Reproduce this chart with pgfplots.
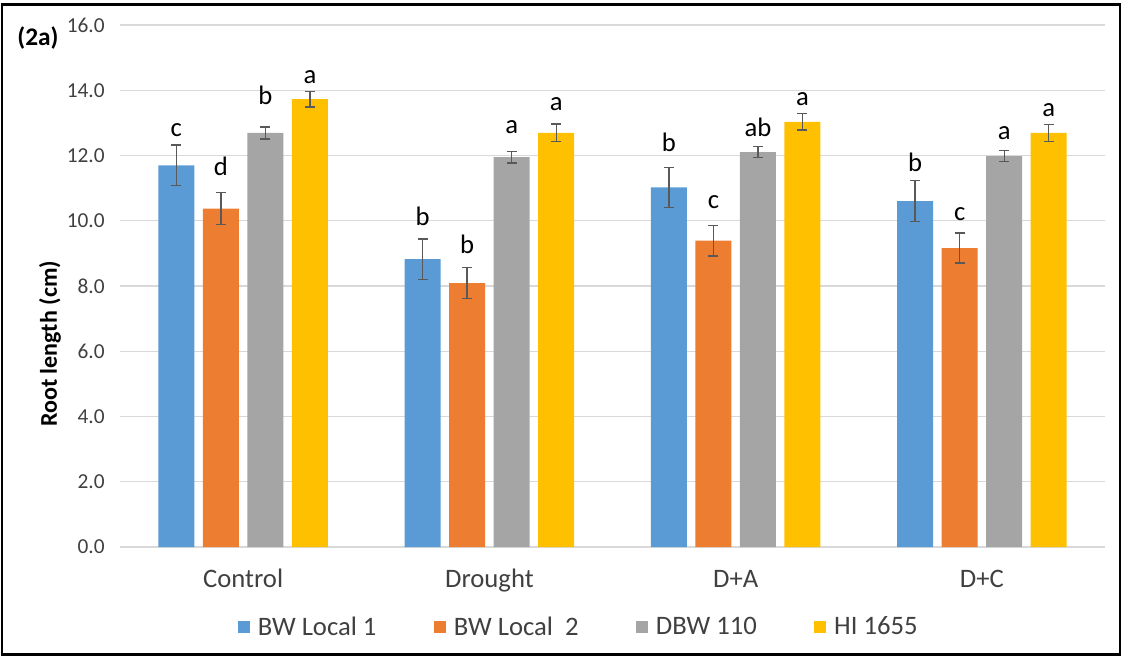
\documentclass[border=0pt]{standalone}
\usepackage{pgfplots}
\usepackage{pgfplotstable}
\pgfplotsset{compat=1.18}
\usepackage{fontspec}
\setmainfont{Carlito}
\definecolor{c1}{HTML}{5B9BD5}
\definecolor{c2}{HTML}{ED7D31}
\definecolor{c3}{HTML}{A5A5A5}
\definecolor{c4}{HTML}{FFC000}
\definecolor{gridc}{HTML}{D9D9D9}
\definecolor{errc}{HTML}{595959}
\definecolor{txtc}{HTML}{404040}

\pgfplotstableread{
x y e ly lab
0 11.70 0.62 12.58 c
1 8.82 0.62 9.85 b
2 11.02 0.62 12.12 b
3 10.60 0.63 11.50 b
}\tblA
\pgfplotstableread{
x y e ly lab
0 10.37 0.49 11.40 d
1 8.09 0.47 9.00 b
2 9.39 0.47 10.38 c
3 9.16 0.46 10.02 c
}\tblB
\pgfplotstableread{
x y e ly lab
0 12.69 0.18 13.55 b
1 11.95 0.18 12.68 a
2 12.10 0.17 12.58 ab
3 11.98 0.17 12.48 a
}\tblC
\pgfplotstableread{
x y e ly lab
0 13.73 0.24 14.22 a
1 12.69 0.27 13.39 a
2 13.03 0.25 13.53 a
3 12.69 0.26 13.19 a
}\tblD

\begin{document}
\begin{tikzpicture}
\useasboundingbox (-90pt,-82.5pt) rectangle (752.25pt,410.25pt);
\draw[line width=1.8pt] (-88.5pt,-80.6pt) rectangle (750pt,406.9pt);
\begin{axis}[
  at={(0pt,0pt)}, anchor=south west,
  x=184.7pt, y=24.47pt,
  xmin=-0.5, xmax=3.5, ymin=0, ymax=16,
  ybar=6.4pt, bar width=27pt,
  axis line style={draw=none},
  major tick length=0pt,
  ymajorgrids, grid style={color=gridc, line width=0.9pt},
  ytick={0,2,...,16},
  /pgf/number format/assume math mode=true,
  yticklabel style={/pgf/number format/.cd, fixed, fixed zerofill, precision=1, /tikz/.cd,
     font=\fontsize{16}{18}\selectfont, text=txtc, anchor=east, xshift=-8pt},
  xtick={0,1,2,3}, xticklabels={Control,Drought,D+A,D+C},
  xticklabel style={font=\fontsize{20}{22}\selectfont, text=txtc, anchor=base, yshift=-30pt},
  ylabel={Root length (cm)},
  ylabel style={at={(axis description cs:-0.071,0.389)}, anchor=center, font=\bfseries\fontsize{18}{20}\selectfont},
  legend columns=4,
  legend style={at={(0.466,-0.153)}, anchor=center, draw=none, fill=none,
     font=\fontsize{20}{22}\selectfont, text=txtc,
     /tikz/every odd column/.append style={column sep=4pt},
     /tikz/every even column/.append style={column sep=41pt}},
  legend image code/.code={\fill[#1] (0pt,-4.5pt) rectangle (9pt,4.5pt);},
  error bars/y dir=both, error bars/y explicit,
  error bars/error bar style={color=errc, line width=1pt},
  error bars/error mark options={rotate=90, color=errc, line width=1pt, mark size=3.75pt},
  nodes near coords,
  point meta=explicit symbolic,
  visualization depends on={\thisrow{ly}-\thisrow{y} \as \dy},
  nodes near coords style={anchor=base, yshift=\dy*24.47pt, font=\fontsize{20}{22}\selectfont, text=black},
]
\addplot[fill=c1, draw=none] table[x=x, y=y, y error=e, meta=lab]{\tblA};
\addplot[fill=c2, draw=none] table[x=x, y=y, y error=e, meta=lab]{\tblB};
\addplot[fill=c3, draw=none] table[x=x, y=y, y error=e, meta=lab]{\tblC};
\addplot[fill=c4, draw=none] table[x=x, y=y, y error=e, meta=lab]{\tblD};
\legend{BW Local 1, BW Local~ 2, DBW 110, HI 1655}
\end{axis}
\node[font=\bfseries\fontsize{19}{21}\selectfont, anchor=center] at (-61.5pt,382pt) {(2a)};
\end{tikzpicture}
\end{document}
